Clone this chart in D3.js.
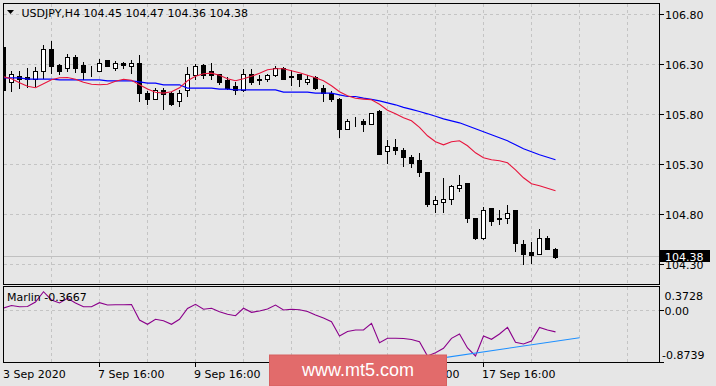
<!DOCTYPE html>
<html><head><meta charset="utf-8">
<script src="https://cdn.jsdelivr.net/npm/d3@7"></script>
<style>
body{margin:0;background:#e6e6e6;}
svg{display:block;}
text{font-family:"DejaVu Sans",sans-serif;font-size:11px;fill:#000;}
</style>
</head><body><svg id="c" width="716" height="386"></svg>
<script>
const symbolTitle = "USDJPY,H4";
const lastOHLC = ["104.45","104.47","104.36","104.38"];
const opens = [106.47,106.13,106.18,106.17,106.15,106.23,106.46,106.30,106.26,106.37,
106.29,106.23,106.24,106.34,106.27,106.32,106.28,106.32,106.01,105.96,
106.05,106.01,105.93,106.05,106.19,106.30,106.23,106.20,106.14,106.08,
106.05,106.21,106.16,106.15,106.19,106.26,106.18,106.20,106.13,106.17,
106.07,106.01,105.95,105.66,105.73,105.73,105.71,105.83,105.43,105.47,
105.44,105.37,105.34,105.22,104.91,104.92,104.96,105.06,105.11,104.76,
104.57,104.86,104.75,104.76,104.85,104.50,104.42,104.41,104.57,104.45];
const highs = [106.50,106.24,106.24,106.27,106.28,106.50,106.54,106.31,106.41,106.40,
106.33,106.29,106.36,106.34,106.34,106.33,106.35,106.40,106.04,106.07,
106.07,106.03,106.05,106.28,106.31,106.31,106.32,106.21,106.18,106.13,
106.26,106.26,106.20,106.21,106.29,106.28,106.25,106.21,106.20,106.19,
106.10,106.04,105.97,105.76,105.78,105.76,105.81,105.85,105.55,105.56,
105.47,105.40,105.42,105.23,104.99,105.17,105.10,105.20,105.11,104.76,
104.88,104.87,104.85,104.90,104.85,104.55,104.53,104.66,104.59,104.47];
const lows = [106.02,106.03,106.06,106.07,106.08,106.16,106.21,106.20,106.23,106.22,
106.15,106.18,106.23,106.28,106.24,106.26,106.21,105.93,105.90,105.95,
105.85,105.89,105.88,105.98,106.15,106.16,106.15,106.10,106.05,106.00,
106.03,106.10,106.10,106.13,106.18,106.15,106.09,106.08,106.10,106.05,
105.93,105.93,105.57,105.65,105.68,105.63,105.70,105.40,105.31,105.40,
105.28,105.27,105.18,104.88,104.82,104.82,104.90,105.03,104.72,104.55,
104.55,104.69,104.70,104.71,104.43,104.30,104.31,104.40,104.45,104.36];
const closes = [106.05,106.20,106.15,106.16,106.24,106.46,106.28,106.24,106.38,106.27,
106.22,106.24,106.32,106.28,106.31,106.29,106.32,106.01,105.95,106.04,
106.00,105.91,106.01,106.21,106.28,106.19,106.19,106.12,106.07,106.04,
106.21,106.13,106.14,106.19,106.26,106.16,106.175,106.16,106.16,106.07,
106.01,105.95,105.66,105.74,105.74,105.70,105.81,105.41,105.49,105.44,
105.37,105.32,105.22,104.90,104.94,104.96,105.08,105.10,104.76,104.56,
104.85,104.74,104.77,104.82,104.51,104.41,104.39,104.57,104.46,104.38];
const maFast = [106.177,106.157,106.117,106.082,106.067,106.107,106.147,106.167,106.170,106.152,
106.122,106.102,106.097,106.102,106.132,106.152,106.142,106.097,106.054,106.022,
106.014,106.027,106.067,106.137,106.182,106.207,106.214,106.192,106.157,106.137,
106.157,106.182,106.212,106.247,106.257,106.257,106.237,106.217,106.192,106.167,
106.137,106.087,106.027,105.987,105.962,105.954,105.947,105.902,105.842,105.807,
105.767,105.737,105.672,105.587,105.527,105.497,105.527,105.537,105.487,105.417,
105.367,105.347,105.337,105.317,105.247,105.167,105.107,105.087,105.062,105.037];
const maSlow = [106.167,106.167,106.167,106.154,106.154,106.154,106.154,106.147,106.147,106.147,
106.147,106.147,106.147,106.137,106.137,106.137,106.137,106.127,106.114,106.114,
106.097,106.097,106.097,106.064,106.064,106.064,106.064,106.054,106.054,106.047,
106.047,106.047,106.047,106.047,106.047,106.024,106.024,106.024,106.024,106.014,
106.014,106.014,105.997,105.980,105.980,105.964,105.952,105.937,105.917,105.897,
105.872,105.852,105.830,105.807,105.782,105.757,105.737,105.717,105.687,105.657,
105.627,105.597,105.567,105.537,105.497,105.457,105.427,105.397,105.372,105.347];
const marlin = [0.036,0.078,0.058,0.061,0.137,0.310,0.171,0.120,0.199,0.120,
0.058,0.058,0.125,0.086,0.091,0.091,0.095,-0.166,-0.239,-0.155,
-0.178,-0.239,-0.155,0.027,0.098,0.014,0.031,-0.027,-0.070,-0.094,
0.031,-0.037,-0.015,0.019,0.086,0.002,0.014,0.007,-0.023,-0.082,
-0.133,-0.195,-0.436,-0.360,-0.335,-0.335,-0.222,-0.549,-0.475,-0.475,
-0.478,-0.495,-0.532,-0.773,-0.717,-0.643,-0.475,-0.402,-0.638,-0.773,
-0.436,-0.491,-0.402,-0.289,-0.542,-0.571,-0.520,-0.293,-0.335,-0.3667];
const trendBars = [53, 72];
const trendVals = [-0.842, -0.4645];
const priceTicks = [106.80,106.30,105.80,105.30,104.80,104.30];
const indTickVals = [0.3728, 0.00, -0.8739];
const indTickLabels = ["0.3728","0.00","-0.8739"];
const dateLabels = ["3 Sep 2020","7 Sep 16:00","9 Sep 16:00","11 Sep 16:00","15 Sep 16:00","17 Sep 16:00"];
const dateLabelBars = [0,12,24,36,48,60];
const lastPrice = 104.38;
const watermark = "www.mt5.com";

const svg = d3.select("#c");
const L = 3.5, R = 659.5, mainTop = 3.5, mainBot = 284.5, indTop = 286.5, indBot = 362.5;
const x = d3.scaleLinear().domain([0, 69]).range([3.5, 555.5]);
const y = d3.scaleLinear().domain([104.30, 106.80]).range([264.5, 14.5]);
const yi = d3.scaleLinear().domain([-0.8739, 0.3728]).range([362, 288]);
const px = v => Math.round(v - 0.5) + 0.5;

svg.append("rect").attr("width",716).attr("height",386).attr("fill","#e6e6e6");

const defs = svg.append("defs");
defs.append("clipPath").attr("id","cm").append("rect").attr("x",4).attr("y",4).attr("width",655).attr("height",280);
defs.append("clipPath").attr("id","ci").append("rect").attr("x",4).attr("y",287).attr("width",655).attr("height",75);

const grid = svg.append("g").attr("stroke","#c4c4c4").attr("stroke-dasharray","3,3").attr("shape-rendering","crispEdges");
// vertical grid
const vBars = d3.range(6, 79, 6);
vBars.forEach(b => {
  const gx = px(x(b));
  grid.append("line").attr("x1",gx).attr("x2",gx).attr("y1",mainTop).attr("y2",mainBot);
  grid.append("line").attr("x1",gx).attr("x2",gx).attr("y1",indTop).attr("y2",indBot);
});
priceTicks.forEach(p => {
  const gy = px(y(p));
  grid.append("line").attr("x1",L).attr("x2",R).attr("y1",gy).attr("y2",gy);
});
grid.append("line").attr("x1",L).attr("x2",R).attr("y1",px(yi(0))).attr("y2",px(yi(0)));

// last price line
svg.append("line").attr("x1",L).attr("x2",R).attr("y1",px(y(lastPrice))).attr("y2",px(y(lastPrice)))
  .attr("stroke","#c0c0c0").attr("shape-rendering","crispEdges");

// candles
const cg = svg.append("g").attr("clip-path","url(#cm)").attr("shape-rendering","crispEdges");
opens.forEach((o,i) => {
  const cx = x(i);
  const c = closes[i];
  cg.append("line").attr("x1",cx).attr("x2",cx).attr("y1",y(highs[i])).attr("y2",y(lows[i])).attr("stroke","#000");
  const top = Math.round(y(Math.max(o,c))) + 0.5, bot = Math.round(y(Math.min(o,c))) + 0.5;
  cg.append("rect").attr("x",cx-2).attr("y",top).attr("width",4).attr("height",Math.max(0, bot-top))
    .attr("fill", c >= o ? "#ffffff" : "#000000").attr("stroke","#000");
});

// moving averages
const lineMain = d3.line().x((d,i)=>x(i)).y(d=>y(d));
const mg = svg.append("g").attr("clip-path","url(#cm)");
mg.append("path").attr("d",lineMain(maSlow)).attr("fill","none").attr("stroke","#0000ff").attr("stroke-width",1.2);
mg.append("path").attr("d",lineMain(maFast)).attr("fill","none").attr("stroke","#e8143c").attr("stroke-width",1.1);

// indicator
const ig = svg.append("g").attr("clip-path","url(#ci)");
ig.append("path").attr("d",d3.line().x((d,i)=>x(i)).y(d=>yi(d))(marlin)).attr("fill","none").attr("stroke","#8b008b").attr("stroke-width",1.1);
ig.append("path").attr("d",d3.line().x(d=>x(d[0])).y(d=>yi(d[1]))(trendBars.map((b,i)=>[b,trendVals[i]])))
  .attr("fill","none").attr("stroke","#1e90ff").attr("stroke-width",1.1);

// frames
const fr = svg.append("g").attr("fill","none").attr("stroke","#000").attr("shape-rendering","crispEdges");
fr.append("rect").attr("x",L).attr("y",mainTop).attr("width",R-L).attr("height",mainBot-mainTop);
fr.append("rect").attr("x",L).attr("y",indTop).attr("width",R-L).attr("height",indBot-indTop);

// right axis
const ax = svg.append("g");
priceTicks.forEach(p => {
  const gy = px(y(p));
  ax.append("line").attr("x1",R).attr("x2",R+4).attr("y1",gy).attr("y2",gy).attr("stroke","#000").attr("shape-rendering","crispEdges");
  ax.append("text").attr("x",665).attr("y",gy+4.5).text(p.toFixed(2));
});
const indLabelY = [300, 315, 358.5];
indTickVals.forEach((v,i) => {
  if (i > 0) ax.append("line").attr("x1",R).attr("x2",R+4).attr("y1",px(yi(v))).attr("y2",px(yi(v))).attr("stroke","#000").attr("shape-rendering","crispEdges");
  ax.append("text").attr("x", indTickLabels[i].startsWith("-") ? 662 : 664.5).attr("y",indLabelY[i]).text(indTickLabels[i]);
});
// last price label
const ly = px(y(lastPrice));
svg.append("rect").attr("x",660).attr("y",ly-6.5).attr("width",50).attr("height",12).attr("fill","#000");
svg.append("text").attr("x",665).attr("y",ly+4).attr("fill","#fff").style("fill","#fff").text(lastPrice.toFixed(2));

// bottom axis
dateLabels.forEach((t,i) => {
  const bx = px(x(dateLabelBars[i]));
  if (i > 0) svg.append("line").attr("x1",bx).attr("x2",bx).attr("y1",indBot).attr("y2",indBot+4).attr("stroke","#000").attr("shape-rendering","crispEdges");
  svg.append("text").attr("x", i===0 ? 3 : bx-1.5).attr("y",378).text(t);
});

// title
svg.append("path").attr("d","M7,10 L14,10 L10.5,14 Z").attr("fill","#000");
svg.append("text").attr("x",21.5).attr("y",17).text(symbolTitle + "  " + lastOHLC.join(" "));
svg.append("text").attr("x",7).attr("y",301).text("Marlin -0.3667");

// watermark
svg.append("rect").attr("x",269.5).attr("y",355).attr("width",177).attr("height",31).attr("fill","#e26b6b").attr("stroke","#d66060");
svg.append("text").attr("x",358).attr("y",376).attr("text-anchor","middle")
  .style("font-family","'Liberation Sans',Arial,sans-serif").style("font-size","18px").style("fill","#ffffff").text(watermark);
</script>
</body></html>
